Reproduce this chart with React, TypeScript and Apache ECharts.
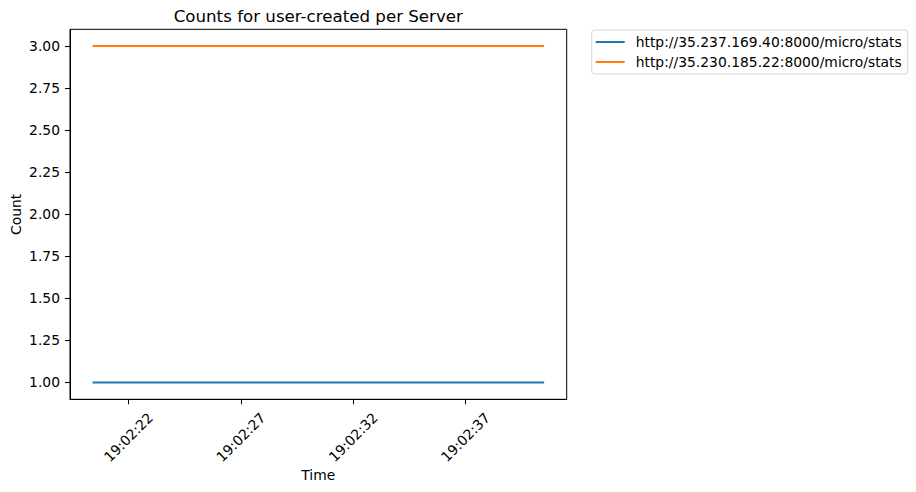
import React, { useEffect, useRef } from "react";
import * as echarts from "echarts";

const titleText = "Counts for user-created per Server";
const seriesNames = [
  "http://35.237.169.40:8000/micro/stats",
  "http://35.230.185.22:8000/micro/stats",
];
const sampleTimes = ["19:02:20.4", "19:02:40.5"];
const serverA = [1, 1];
const serverB = [3, 3];
const yTicks = [1.0, 1.25, 1.5, 1.75, 2.0, 2.25, 2.5, 2.75, 3.0];
const xTickLabels = ["19:02:22", "19:02:27", "19:02:32", "19:02:37"];
const colors = ["#1f77b4", "#ff7f0e"];

const toSec = (s: string) => {
  const [h, m, sec] = s.split(":");
  return Number(h) * 3600 + Number(m) * 60 + Number(sec);
};
const pad = (n: number) => String(n).padStart(2, "0");
const fmt = (v: number) => {
  const t = Math.round(v);
  return `${pad(Math.floor(t / 3600))}:${pad(Math.floor((t % 3600) / 60))}:${pad(t % 60)}`;
};

export default function App() {
  const ref = useRef<HTMLDivElement>(null);
  useEffect(() => {
    if (!ref.current) return;
    const chart = echarts.init(ref.current, undefined, { renderer: "svg" });
    const xs = sampleTimes.map(toSec);
    const span = xs[xs.length - 1] - xs[0];
    const xmin = xs[0] - span * 0.05;
    const xmax = xs[xs.length - 1] + span * 0.05;
    const font = "DejaVu Sans";
    const fs = 13.89;
    chart.setOption({
      animation: false,
      textStyle: { fontFamily: font },
      grid: {
        left: 70,
        top: 29.3,
        right: 349.3,
        bottom: 92.7,
        show: true,
        borderColor: "#000",
        borderWidth: 1,
        backgroundColor: "transparent",
      },
      xAxis: {
        type: "value",
        min: xmin,
        max: xmax,
        axisLine: { show: true, onZero: false, lineStyle: { color: "#000", width: 1 } },
        axisTick: {
          show: true,
          length: 5,
          lineStyle: { color: "#000" },
          customValues: xTickLabels.map(toSec),
        },
        axisLabel: {
          customValues: xTickLabels.map(toSec),
          formatter: (v: number) => fmt(v),
          rotate: 45,
          align: "center",
          verticalAlign: "middle",
          margin: 38,
          color: "#000",
          fontSize: fs,
          fontFamily: font,
        },
        splitLine: { show: false },
      },
      yAxis: {
        type: "value",
        min: 0.9,
        max: 3.1,
        axisLine: { show: true, onZero: false, lineStyle: { color: "#000", width: 1 } },
        axisTick: {
          show: true,
          length: 5,
          lineStyle: { color: "#000" },
          customValues: yTicks,
        },
        axisLabel: {
          customValues: yTicks,
          formatter: (v: number) => v.toFixed(2),
          margin: 10,
          color: "#000",
          fontSize: fs,
          fontFamily: font,
        },
        splitLine: { show: false },
      },
      legend: {
        orient: "vertical",
        left: 591.7,
        top: 30,
        data: seriesNames,
        icon: "rect",
        itemWidth: 29,
        itemHeight: 2,
        itemGap: 6,
        padding: [5, 6, 5, 4],
        borderColor: "#d6d6d6",
        borderWidth: 1,
        borderRadius: 3,
        textStyle: {
          fontSize: fs,
          fontFamily: font,
          color: "#000",
          lineHeight: 14,
          padding: [0, 0, 0, 6],
        },
      },
      graphic: [
        {
          type: "text",
          x: 318.3,
          y: 16,
          style: {
            text: titleText,
            fontSize: 16.67,
            fontFamily: font,
            fill: "#000",
            textAlign: "center",
            textVerticalAlign: "middle",
          },
        },
        {
          type: "text",
          x: 318.3,
          y: 475,
          style: {
            text: "Time",
            fontSize: fs,
            fontFamily: font,
            fill: "#000",
            textAlign: "center",
            textVerticalAlign: "middle",
          },
        },
        {
          type: "text",
          x: 16,
          y: 214.3,
          rotation: Math.PI / 2,
          style: {
            text: "Count",
            fontSize: fs,
            fontFamily: font,
            fill: "#000",
            textAlign: "center",
            textVerticalAlign: "middle",
          },
        },
      ],
      series: [
        {
          name: seriesNames[0],
          type: "line",
          data: xs.map((x, i) => [x, serverA[i]]),
          showSymbol: false,
          color: colors[0],
          lineStyle: { width: 2, color: colors[0] },
        },
        {
          name: seriesNames[1],
          type: "line",
          data: xs.map((x, i) => [x, serverB[i]]),
          showSymbol: false,
          color: colors[1],
          lineStyle: { width: 2, color: colors[1] },
        },
      ],
    });
    return () => chart.dispose();
  }, []);
  return (
    <div
      ref={ref}
      style={{ position: "fixed", left: 0, top: 0, width: 916, height: 492, background: "#fff" }}
    />
  );
}
